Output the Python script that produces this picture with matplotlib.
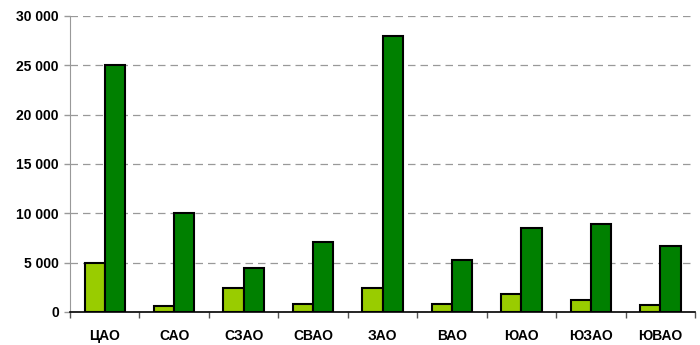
import numpy as np
import matplotlib.pyplot as plt
from matplotlib.ticker import FuncFormatter, FixedLocator

districts = ['ЦАО', 'САО', 'СЗАО', 'СВАО', 'ЗАО', 'ВАО', 'ЮАО', 'ЮЗАО', 'ЮВАО']
light_vals = [5000, 600, 2400, 800, 2450, 800, 1850, 1250, 650]
dark_vals = [25000, 10000, 4450, 7100, 28000, 5300, 8550, 8950, 6700]

plt.rcParams['font.family'] = ['Liberation Sans', 'DejaVu Sans']
plt.rcParams['font.size'] = 10
plt.rcParams['font.weight'] = 'bold'

fig = plt.figure(figsize=(7, 3.45), dpi=100)
ax = fig.add_axes([0.1, 0.096, 0.893, 0.858])

x = np.arange(len(districts))
w = 0.29
ax.bar(x - w / 2, light_vals, w, color='#99CC00', edgecolor='black', linewidth=1.5, zorder=3)
ax.bar(x + w / 2, dark_vals, w, color='#008000', edgecolor='black', linewidth=1.5, zorder=3)

ax.set_xlim(-0.5, len(districts) - 0.5)
ax.set_ylim(0, 30000)
ax.set_yticks(np.arange(0, 30001, 5000))
ax.yaxis.set_major_formatter(FuncFormatter(lambda v, p: f'{int(v):,}'.replace(',', ' ')))
ax.yaxis.grid(True, linestyle=(0, (6, 4)), color='#999999', linewidth=0.9, zorder=0)

# category labels centred, tick marks sit between categories
ax.xaxis.set_major_locator(FixedLocator(np.arange(-0.5, len(districts), 1.0)))
ax.xaxis.set_major_formatter(FuncFormatter(lambda v, p: ''))
ax.xaxis.set_minor_locator(FixedLocator(x))
ax.set_xticklabels(districts, minor=True)
ax.tick_params(axis='x', which='major', length=4, width=1, color='#555555')
ax.tick_params(axis='x', which='minor', length=0, pad=12.5, labelsize=10)
ax.tick_params(axis='y', length=4, width=1, color='#999999', pad=4, labelsize=10)

for s in ['top', 'right']:
    ax.spines[s].set_visible(False)
ax.spines['left'].set_color('#999999')
ax.spines['bottom'].set_color('black')
ax.spines['bottom'].set_linewidth(1.2)

fig.savefig('out.png', dpi=100)
